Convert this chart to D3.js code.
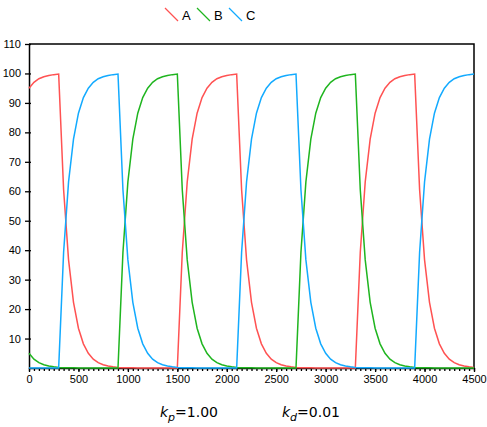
<!DOCTYPE html>
<html>
<head>
<meta charset="utf-8">
<script src="https://cdn.jsdelivr.net/npm/d3@7"></script>
<style>
body { margin: 0; background: #fff; }
svg { display: block; }
</style>
</head>
<body>
<svg id="vis" width="487" height="427"></svg>
<script>
// sample times, one value every 50 units
var times = d3.range(0, 4501, 50);

var seriesNames = ["A", "B", "C"];
var colors = ["#ff5252", "#1fb51f", "#12aaff"];

var valuesA = [
	95.0, 97.0, 98.2, 98.9, 99.3, 99.6, 99.8,
	60.5, 36.7, 22.3, 13.5, 8.2, 5.0, 3.0, 1.8, 1.1, 0.7, 0.4, 0.2, 0.1, 0.1, 0.1,
	0, 0, 0, 0, 0, 0, 0, 0, 0,
	39.3, 63.2, 77.7, 86.5, 91.8, 95.0, 97.0, 98.2, 98.9, 99.3, 99.6, 99.8,
	60.5, 36.7, 22.3, 13.5, 8.2, 5.0, 3.0, 1.8, 1.1, 0.7, 0.4, 0.2, 0.1, 0.1, 0.1,
	0, 0, 0, 0, 0, 0, 0, 0, 0,
	39.3, 63.2, 77.7, 86.5, 91.8, 95.0, 97.0, 98.2, 98.9, 99.3, 99.6, 99.8,
	60.5, 36.7, 22.3, 13.5, 8.2, 5.0, 3.0, 1.8, 1.1, 0.7, 0.4, 0.2
];
var valuesB = [
	5.0, 3.0, 1.8, 1.1, 0.7, 0.4, 0.2, 0.1, 0.1, 0.1,
	0, 0, 0, 0, 0, 0, 0, 0, 0,
	39.3, 63.2, 77.7, 86.5, 91.8, 95.0, 97.0, 98.2, 98.9, 99.3, 99.6, 99.8,
	60.5, 36.7, 22.3, 13.5, 8.2, 5.0, 3.0, 1.8, 1.1, 0.7, 0.4, 0.2, 0.1, 0.1, 0.1,
	0, 0, 0, 0, 0, 0, 0, 0, 0,
	39.3, 63.2, 77.7, 86.5, 91.8, 95.0, 97.0, 98.2, 98.9, 99.3, 99.6, 99.8,
	60.5, 36.7, 22.3, 13.5, 8.2, 5.0, 3.0, 1.8, 1.1, 0.7, 0.4, 0.2, 0.1, 0.1, 0.1,
	0, 0, 0, 0, 0, 0, 0, 0, 0
];
var valuesC = [
	0, 0, 0, 0, 0, 0, 0,
	39.3, 63.2, 77.7, 86.5, 91.8, 95.0, 97.0, 98.2, 98.9, 99.3, 99.6, 99.8,
	60.5, 36.7, 22.3, 13.5, 8.2, 5.0, 3.0, 1.8, 1.1, 0.7, 0.4, 0.2, 0.1, 0.1, 0.1,
	0, 0, 0, 0, 0, 0, 0, 0, 0,
	39.3, 63.2, 77.7, 86.5, 91.8, 95.0, 97.0, 98.2, 98.9, 99.3, 99.6, 99.8,
	60.5, 36.7, 22.3, 13.5, 8.2, 5.0, 3.0, 1.8, 1.1, 0.7, 0.4, 0.2, 0.1, 0.1, 0.1,
	0, 0, 0, 0, 0, 0, 0, 0, 0,
	39.3, 63.2, 77.7, 86.5, 91.8, 95.0, 97.0, 98.2, 98.9, 99.3, 99.6, 99.8
];

var xTicks = [0, 500, 1000, 1500, 2000, 2500, 3000, 3500, 4000, 4500];
var yTicks = [10, 20, 30, 40, 50, 60, 70, 80, 90, 100, 110];
var paramLabels = [["k", "p", "=1.00"], ["k", "d", "=0.01"]];

var vis = d3.select("#vis"),
	MARGINS = {top: 44, right: 13, bottom: 59, left: 29},
	WIDTH = 487,
	HEIGHT = 427,
	xScale = d3.scaleLinear()
		.range([MARGINS.left, WIDTH - MARGINS.right])
		.domain([0, 4500]),
	yScale = d3.scaleLinear()
		.range([HEIGHT - MARGINS.bottom, MARGINS.top])
		.domain([0, 110]);

var allSeries = [valuesA, valuesB, valuesC];

// frame (top and right sides)
vis.append("path")
	.attr("d", "M" + xScale(0) + "," + yScale(110) + "H" + xScale(4500) + "V" + yScale(0))
	.attr("fill", "none")
	.attr("stroke", "#000")
	.attr("stroke-width", 1.5);

// x axis: minor ticks every 50, labelled ones every 500
var xMinor = vis.append("g")
	.attr("transform", "translate(0," + yScale(0) + ")")
	.call(d3.axisBottom(xScale).tickValues(d3.range(0, 4501, 50)).tickSize(3).tickFormat(""));
xMinor.select(".domain").remove();

var xAxis = vis.append("g")
	.attr("transform", "translate(0," + yScale(0) + ")")
	.call(d3.axisBottom(xScale).tickValues(xTicks).tickSize(4).tickSizeOuter(0)
		.tickPadding(3).tickFormat(d3.format("d")));

var yAxis = vis.append("g")
	.attr("transform", "translate(" + xScale(0) + ",0)")
	.call(d3.axisLeft(yScale).tickValues(yTicks).tickSize(5).tickSizeOuter(0).tickPadding(3));

[xAxis, yAxis, xMinor].forEach(function(ax) {
	ax.selectAll("text")
		.attr("font-family", "Liberation Sans, Arial, sans-serif")
		.attr("font-size", 11)
		.attr("fill", "#000");
	ax.selectAll("line").attr("stroke", "#000").attr("stroke-width", 1.3);
	ax.select(".domain").attr("stroke", "#000").attr("stroke-width", 1.5);
});
yAxis.selectAll(".tick line").attr("x2", 2).attr("x1", -4);

// lines drawn over the axes, like the original
var lineGen = d3.line()
	.x(function(d, i) { return xScale(times[i]); })
	.y(function(d) { return yScale(d); });

for (var i = 0; i < allSeries.length; i++) {
	vis.append("path")
		.attr("d", lineGen(allSeries[i]))
		.attr("stroke", colors[i])
		.attr("stroke-width", 1.5)
		.attr("fill", "none");
}

// legend
var legend = vis.append("g").attr("transform", "translate(165,8)");
seriesNames.forEach(function(name, i) {
	var g = legend.append("g").attr("transform", "translate(" + (i * 32) + ",0)");
	g.append("line")
		.attr("x1", 0).attr("y1", 0).attr("x2", 13).attr("y2", 13)
		.attr("stroke", colors[i])
		.attr("stroke-width", 1.3);
	g.append("text")
		.attr("x", 17).attr("y", 11.5)
		.attr("font-family", "Liberation Sans, Arial, sans-serif")
		.attr("font-size", 13)
		.text(name);
});

// parameter labels under the chart
paramLabels.forEach(function(p, i) {
	var t = vis.append("text")
		.attr("x", 160 + i * 122)
		.attr("y", 417)
		.attr("font-family", "DejaVu Sans, sans-serif")
		.attr("font-size", 14);
	t.append("tspan").attr("font-style", "italic").text(p[0]);
	t.append("tspan").attr("font-style", "italic").attr("font-size", 11).attr("dy", 4).text(p[1]);
	t.append("tspan").attr("dy", -4).text(p[2]);
});
</script>
</body>
</html>
